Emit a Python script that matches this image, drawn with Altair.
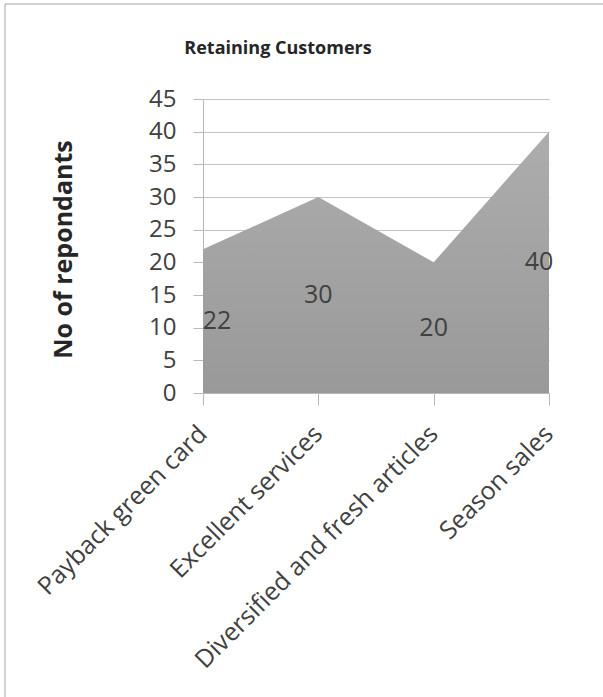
import altair as alt
import pandas as pd

categories = ["Payback green card", "Excellent services",
              "Diversified and fresh articles", "Season sales"]
values = [22, 30, 20, 40]
y_ticks = [0, 5, 10, 15, 20, 25, 30, 35, 40, 45]
chart_title = "Retaining Customers"
y_title = "No of repondants"

df = pd.DataFrame({"cat": categories, "v": values, "idx": list(range(len(categories)))})

FONT = "Open Sans"
TXT = "#404040"
LINE = "#b8b8b8"
W, H = 346, 294
LEFT, TOP = 203, 99

x_enc = alt.X(
    "cat:N", sort=categories,
    scale=alt.Scale(type="point", padding=0),
    axis=alt.Axis(title=None, labelAngle=-45, labelAlign="right", labelBaseline="top",
                  labelFont=FONT, labelFontSize=25, labelColor=TXT, labelPadding=16,
                  labelOffset=-9, labelLimit=600, labelOverlap=False, tickSize=12,
                  tickColor=LINE, domainColor=LINE, grid=False),
)
y_scale = alt.Scale(domain=[0, 45], nice=False, zero=True)
y_axis = alt.Axis(values=y_ticks, title=y_title, titleFont=FONT, titleFontSize=25,
                  titleFontWeight="bold", titleColor="#262626", titleAngle=-90,
                  titleX=63 - LEFT, titleY=249 - TOP, titleAlign="center",
                  titleBaseline="middle",
                  labelFont=FONT, labelFontSize=24, labelColor=TXT, labelPadding=17,
                  labelOverlap=False, labelFlush=False,
                  tickSize=10, tickColor=LINE, domainColor=LINE,
                  gridColor="#c4c4c4", gridWidth=1)

area = alt.Chart(df).mark_area(
    line=False, opacity=1,
    color=alt.Gradient(gradient="linear",
                       stops=[alt.GradientStop(color="#adadad", offset=0),
                              alt.GradientStop(color="#999999", offset=1)],
                       x1=1, x2=1, y1=0, y2=1),
).encode(x=x_enc, y=alt.Y("v:Q", scale=y_scale, axis=y_axis))


def label_layer(i, dx):
    return alt.Chart(df).transform_filter(f"datum.idx == {i}").transform_calculate(
        mid="datum.v / 2"
    ).mark_text(font=FONT, fontSize=25, color=TXT, baseline="middle", align="center", dx=dx).encode(
        x=x_enc,
        y=alt.Y("mid:Q", scale=y_scale, axis=y_axis),
        text="v:Q",
    )


labels = [label_layer(0, 14), label_layer(1, 0), label_layer(2, 0), label_layer(3, -10)]

title_df = pd.DataFrame({"t": [chart_title]})
title = alt.Chart(title_df).mark_text(
    font=FONT, fontSize=18, fontWeight="bold", color="#262626",
    align="center", baseline="alphabetic", clip=False,
).encode(x=alt.value(278 - LEFT), y=alt.value(54 - TOP), text="t:N")

frame = alt.Chart(pd.DataFrame({"f": [0]})).mark_rect(
    filled=False, stroke="#a6a6a6", strokeWidth=1, clip=False
).encode(x=alt.value(5 - LEFT), x2=alt.value(W + 80), y=alt.value(4 - TOP), y2=alt.value(H + 400))

chart = alt.layer(area, *labels, title, frame).properties(
    width=W, height=H,
    autosize=alt.AutoSizeParams(type="none"),
    padding={"left": LEFT, "top": TOP, "right": 603 - LEFT - W, "bottom": 697 - TOP - H},
    background="white",
).configure_view(stroke=None)

chart.save("out.html", embed_options={"renderer": "svg", "actions": False})
